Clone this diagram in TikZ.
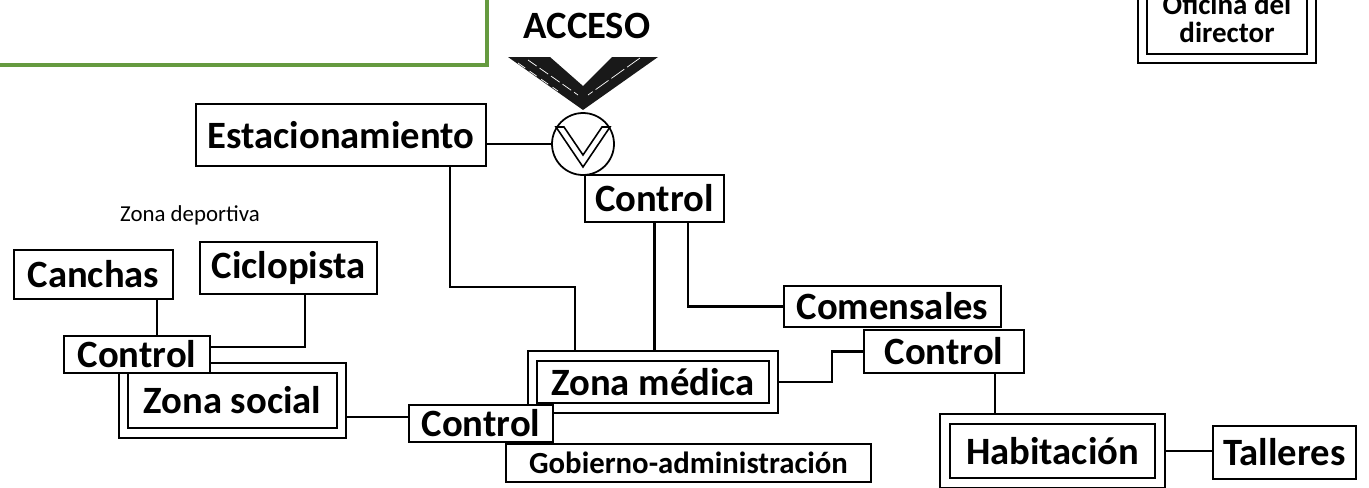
\documentclass[tikz,border=0pt]{standalone}
\usepackage{fontspec}
\setmainfont{Carlito}
\definecolor{leafgreen}{RGB}{101,154,63}

\begin{document}
\begin{tikzpicture}[x=0.02cm, y=-0.02cm,
	box/.style={draw, fill=white, line width=1.2pt, inner sep=0pt, font=\bfseries\fontsize{22}{24}\selectfont},
	dblbox/.style={box, double, line width=1.1pt, double distance=4.5pt, outer sep=3.4pt},
	link/.style={line width=1.2pt}]
\useasboundingbox (0,0) rectangle (1369,487);
	\draw[leafgreen, line width=2.4pt] (-20,65) -- (487,65) -- (487,-20);
	\node[font=\bfseries\fontsize{22}{24}\selectfont] (acceso) at (587,26) {ACCESO};
	\begin{scope}
		\clip (508,57) -- (550,57) -- (583,86) -- (612,57) -- (658,57) -- (583,110) -- cycle;
		\fill[black!90] (500,50) rectangle (670,115);
		\draw[white, line width=0.4pt, dash pattern=on 6pt off 2pt] (528,60) -- ++(50,35);
		\draw[white, line width=0.4pt, dash pattern=on 9pt off 2pt] (640,58) -- ++(-52,37);
		\draw[white, line width=0.4pt, dash pattern=on 5pt off 3pt] (518,63) -- ++(40,28);
	\end{scope}
	\node[box, circle, minimum size=1.24cm, line width=1pt] (valve) at (583,144) {};
	\draw[line width=0.9pt] ([shift={(-27,-17)}]valve.center) -- ++(27,40) -- ++(27,-40) -- ++(-8,0) -- ++(-19,28) -- ++(-19,-28) -- cycle;
	\node[box, minimum width=5.8cm, minimum height=1.24cm] (estac) at (341,135) {Estacionamiento};
	\node[box, minimum width=2.78cm, minimum height=0.94cm] (ctrlA) at (654.5,198.5) {Control};
	\node[dblbox, minimum width=3.38cm, minimum height=1.62cm, align=center, font=\bfseries\fontsize{16.5}{16}\selectfont] (oficina) at (1227,18) {Oficina del\\director};
	\node[font=\fontsize{13}{15}\selectfont] (deport) at (190,215) {Zona deportiva};
	\node[box, minimum width=3.18cm, minimum height=0.98cm] (canchas) at (93.5,274.5) {Canchas};
	\node[box, minimum width=3.54cm, minimum height=1.04cm] (ciclo) at (288.5,268) {Ciclopista};
	\node[dblbox, minimum width=4.36cm, minimum height=1.3cm] (social) at (232.5,400.5) {Zona social};
	\node[box, minimum width=2.92cm, minimum height=0.74cm] (ctrlL) at (137,354.5) {Control};
	\node[dblbox, minimum width=4.82cm, minimum height=1.04cm] (medica) at (653,382) {Zona médica};
	\node[box, minimum width=7.3cm, minimum height=0.76cm, font=\bfseries\fontsize{17.5}{19}\selectfont] (gob) at (688.5,463) {Gobierno-administración};
	\node[box, minimum width=2.88cm, minimum height=0.74cm] (ctrlB) at (481,423.5) {Control};
	\node[box, minimum width=4.34cm, minimum height=0.82cm] (comens) at (892.5,306.5) {Comensales};
	\node[box, minimum width=3.2cm, minimum height=0.86cm] (ctrlR) at (944,351.5) {Control};
	\node[dblbox, minimum width=4.3cm, minimum height=1.28cm] (habit) at (1052.5,451) {Habitación};
	\node[box, minimum width=2.86cm, minimum height=1.06cm] (talleres) at (1284.5,452.5) {Talleres};
	\coordinate (kE) at (450,287);
	\coordinate (kM) at (575,287);
	\coordinate (kA) at (688,0);
	\coordinate (kCa) at (157,0);
	\coordinate (kCi) at (305,347);
	\coordinate (kS) at (0,417);
	\coordinate (kR) at (832,368);
	\coordinate (kH) at (995,0);
	\draw[link] (valve.west) -- (valve.west -| estac.east);
	\draw[link] (kE |- estac.south) -- (kE) -- (kM) -- (kM |- medica.north);
	\draw[link] (node cs:name=ctrlA,anchor=south) -- (ctrlA.south |- medica.north);
	\draw[link] (kA |- ctrlA.south) |- (node cs:name=comens,anchor=west);
	\draw[link] (kCa |- canchas.south) -- (kCa |- ctrlL.north);
	\draw[link] (kCi |- ciclo.south) -- (kCi) -- (kCi -| ctrlL.east);
	\draw[link] (social.east |- kS) -- (ctrlB.west |- kS);
	\draw[link] (node cs:name=medica,anchor=east) -| (kR) |- (ctrlR.west);
	\draw[link] (kH |- ctrlR.south) -- (kH |- habit.north);
	\draw[link] (habit.east) -- (talleres.west |- habit.east);
\end{tikzpicture}
\end{document}
